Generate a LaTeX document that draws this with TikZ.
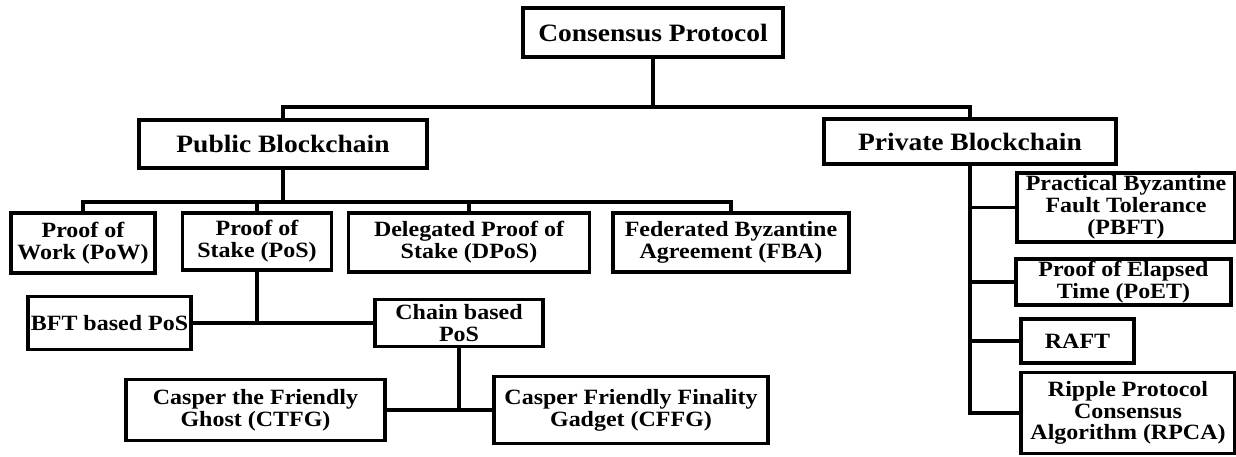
\documentclass[tikz,border=0pt]{standalone}
\usepackage{fontspec}
\setmainfont{Liberation Serif}[FakeStretch=1.1]
\begin{document}
\begin{tikzpicture}[x=0.5pt,y=-0.5pt,
  box/.style={draw,line width=1.6pt,inner sep=0pt,align=center,
    font=\fontsize{10.9}{10.9}\selectfont\bfseries},
  head/.style={box,font=\fontsize{12.5}{12.5}\selectfont\bfseries},
  conn/.style={line width=1.6pt}]
\useasboundingbox[fill=white] (0,0) rectangle (1236,456);
% level 0
\node[head,minimum width=130pt,minimum height=24.5pt] (cp) at (653,32.5) {Consensus Protocol};
% level 1
\node[head,minimum width=144pt,minimum height=24pt] (pub) at (283,144) {Public Blockchain};
\node[head,minimum width=146pt,minimum height=22.5pt] (priv) at (970,141.5) {Private Blockchain};
% public children
\node[box,minimum width=72pt,minimum height=30pt] (pow) at (83,243) {Proof of\\Work (PoW)};
\node[box,minimum width=74.5pt,minimum height=28.5pt] (pos) at (257,241.5) {Proof of\\Stake (PoS)};
\node[box,minimum width=120.5pt,minimum height=29.5pt] (dpos) at (469,242.5) {Delegated Proof of\\Stake (DPoS)};
\node[box,minimum width=118pt,minimum height=29.5pt] (fba) at (731,242.5) {Federated Byzantine\\Agreement (FBA)};
% PoS children
\node[box,minimum width=81.5pt,minimum height=26.5pt] (bft) at (109.5,323) {BFT based PoS};
\node[box,minimum width=84pt,minimum height=23.5pt] (chain) at (459,323) {Chain based\\PoS};
% chain children
\node[box,minimum width=129.5pt,minimum height=30.5pt] (ctfg) at (255.5,410) {Casper the Friendly\\Ghost (CTFG)};
\node[box,minimum width=137pt,minimum height=33.5pt] (cffg) at (631,410) {Casper Friendly Finality\\Gadget (CFFG)};
% private children
\node[box,minimum width=109pt,minimum height=34.5pt] (pbft) at (1126,207.5) {Practical Byzantine\\Fault Tolerance\\(PBFT)};
\node[box,minimum width=107.5pt,minimum height=23pt] (poet) at (1123.5,282) {Proof of Elapsed\\Time (PoET)};
\node[box,minimum width=56.5pt,minimum height=22pt] (raft) at (1077.5,341) {RAFT};
\node[box,minimum width=107pt,minimum height=40.5pt] (rpca) at (1128,413) {Ripple Protocol\\Consensus\\Algorithm (RPCA)};
% connectors
\coordinate (b0) at (653,107);
\coordinate (b1) at (283,202);
\draw[conn] (cp.south) -- (b0);
\draw[conn] (pub.north) |- (b0) -| (priv.north);
\draw[conn] (pub.south) -- (b1);
\draw[conn] (pow.north) |- (b1) -| (fba.north);
\draw[conn] (pos.north) -- (pos.north |- b1);
\draw[conn] (dpos.north) -- (dpos.north |- b1);
\draw[conn] (pos.south) -- (pos.south |- bft.east);
\draw[conn] (bft.east) -- (chain.west);
\draw[conn] (chain.south) -- (chain.south |- ctfg.east);
\draw[conn] (ctfg.east) -- (cffg.west);
\draw[conn] (priv.south) |- (rpca.west);
\draw[conn] (pbft.west) -- (pbft.west -| priv.south);
\draw[conn] (poet.west) -- (poet.west -| priv.south);
\draw[conn] (raft.west) -- (raft.west -| priv.south);
\end{tikzpicture}
\end{document}
